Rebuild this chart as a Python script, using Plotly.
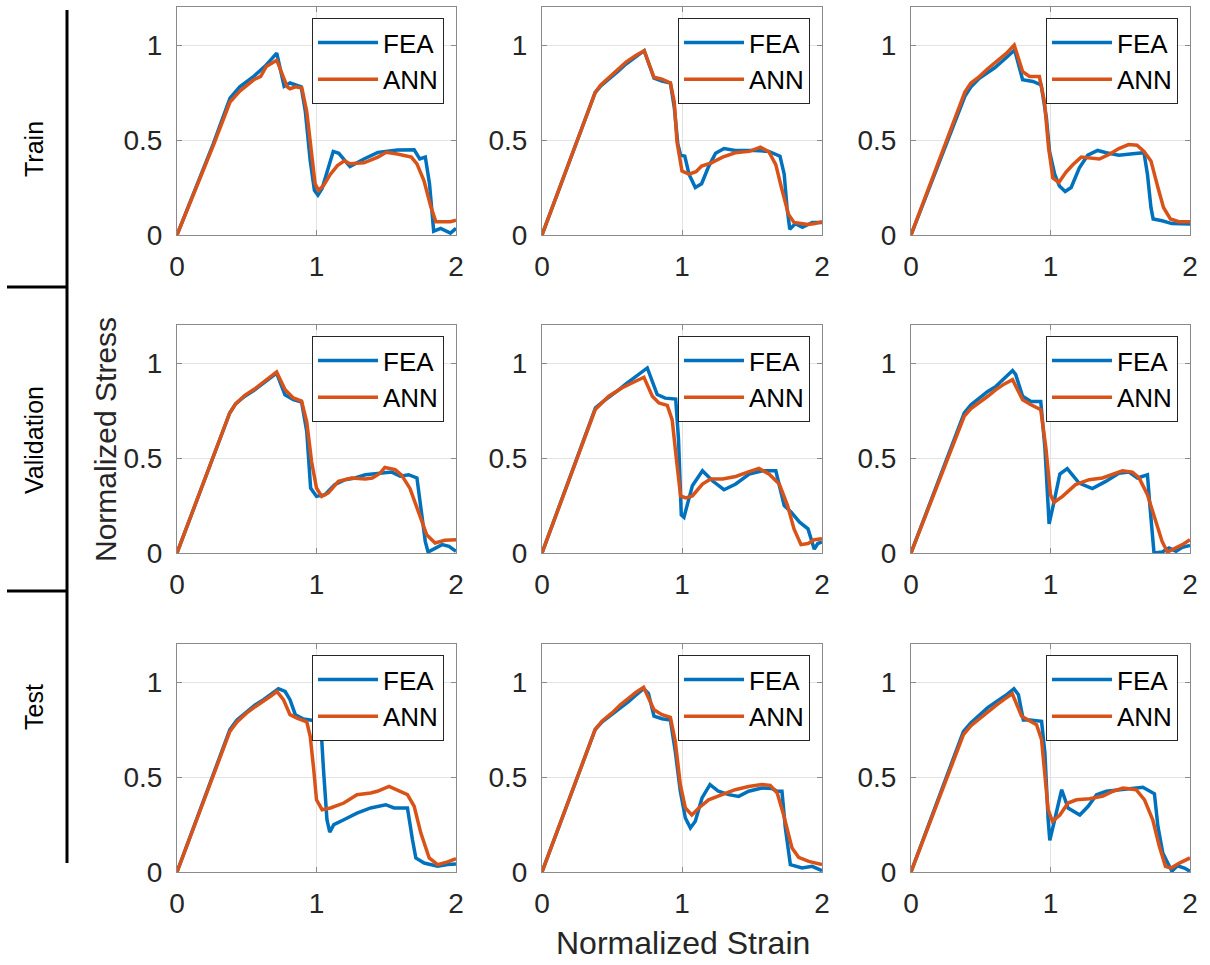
import plotly.graph_objects as go

# ---------------- data ----------------
ROW_LABELS = ["Train", "Validation", "Test"]
SERIES_NAMES = ["FEA", "ANN"]
X_TICKS = [0, 1, 2]
Y_TICKS = [0, 0.5, 1]
Y_TICK_TEXT = ["0", "0.5", "1"]

# Train, panel 1
tr1_fea_x = [0, 0.26, 0.38, 0.45, 0.55, 0.64, 0.715, 0.768, 0.81, 0.89, 0.92, 0.955, 0.985, 1.01, 1.04, 1.12, 1.16, 1.24, 1.34, 1.44, 1.58, 1.70, 1.74, 1.78, 1.81, 1.84, 1.89, 1.93, 1.96, 2.0]
tr1_fea_y = [0, 0.48, 0.72, 0.78, 0.835, 0.895, 0.957, 0.783, 0.80, 0.78, 0.65, 0.39, 0.235, 0.21, 0.245, 0.44, 0.43, 0.36, 0.40, 0.435, 0.447, 0.449, 0.40, 0.41, 0.27, 0.02, 0.035, 0.02, 0.01, 0.035]
tr1_ann_x = [0, 0.26, 0.38, 0.45, 0.55, 0.6, 0.64, 0.68, 0.715, 0.79, 0.81, 0.85, 0.895, 0.93, 0.97, 0.99, 1.015, 1.05, 1.1, 1.15, 1.2, 1.24, 1.34, 1.44, 1.5, 1.58, 1.68, 1.72, 1.77, 1.82, 1.856, 1.92, 1.96, 2.0]
tr1_ann_y = [0, 0.47, 0.70, 0.757, 0.817, 0.835, 0.887, 0.904, 0.92, 0.78, 0.77, 0.78, 0.774, 0.65, 0.41, 0.27, 0.235, 0.26, 0.32, 0.365, 0.39, 0.375, 0.38, 0.41, 0.435, 0.426, 0.41, 0.374, 0.287, 0.148, 0.07, 0.07, 0.07, 0.078]

# Train, panel 2
tr2_fea_x = [0, 0.38, 0.42, 0.48, 0.54, 0.6, 0.67, 0.73, 0.80, 0.857, 0.917, 0.945, 0.97, 0.99, 1.02, 1.05, 1.095, 1.14, 1.19, 1.24, 1.30, 1.38, 1.52, 1.62, 1.70, 1.73, 1.75, 1.77, 1.81, 1.86, 1.93, 2.0]
tr2_fea_y = [0, 0.75, 0.785, 0.82, 0.86, 0.90, 0.935, 0.97, 0.825, 0.81, 0.80, 0.67, 0.48, 0.42, 0.415, 0.32, 0.25, 0.27, 0.36, 0.43, 0.455, 0.445, 0.445, 0.44, 0.415, 0.32, 0.145, 0.03, 0.06, 0.04, 0.066, 0.066]
tr2_ann_x = [0, 0.38, 0.42, 0.48, 0.54, 0.6, 0.67, 0.73, 0.80, 0.857, 0.917, 0.945, 0.964, 0.99, 1.0, 1.05, 1.1, 1.14, 1.21, 1.29, 1.38, 1.48, 1.56, 1.62, 1.67, 1.71, 1.76, 1.80, 1.9, 1.95, 2.0]
tr2_ann_y = [0, 0.75, 0.79, 0.83, 0.87, 0.91, 0.945, 0.97, 0.83, 0.82, 0.80, 0.70, 0.49, 0.37, 0.337, 0.32, 0.333, 0.363, 0.38, 0.41, 0.433, 0.44, 0.462, 0.438, 0.37, 0.25, 0.11, 0.066, 0.055, 0.06, 0.07]

# Train, panel 3
tr3_fea_x = [0, 0.386, 0.43, 0.49, 0.55, 0.6, 0.67, 0.743, 0.80, 0.874, 0.933, 0.97, 0.993, 1.03, 1.064, 1.105, 1.148, 1.207, 1.267, 1.338, 1.4, 1.49, 1.59, 1.67, 1.695, 1.72, 1.736, 1.80, 1.87, 2.0]
tr3_fea_y = [0, 0.73, 0.78, 0.825, 0.855, 0.88, 0.925, 0.974, 0.817, 0.808, 0.79, 0.62, 0.44, 0.32, 0.258, 0.229, 0.25, 0.354, 0.42, 0.445, 0.433, 0.42, 0.428, 0.433, 0.32, 0.145, 0.084, 0.075, 0.06, 0.058]
tr3_ann_x = [0, 0.386, 0.43, 0.49, 0.55, 0.61, 0.683, 0.74, 0.80, 0.85, 0.92, 0.957, 0.986, 1.017, 1.06, 1.11, 1.16, 1.22, 1.28, 1.35, 1.42, 1.49, 1.56, 1.62, 1.67, 1.72, 1.77, 1.81, 1.86, 1.92, 2.0]
tr3_ann_y = [0, 0.752, 0.80, 0.834, 0.875, 0.913, 0.956, 1.0, 0.86, 0.834, 0.834, 0.70, 0.46, 0.30, 0.276, 0.33, 0.37, 0.41, 0.405, 0.40, 0.424, 0.455, 0.476, 0.473, 0.44, 0.39, 0.25, 0.145, 0.084, 0.07, 0.07]

# Validation, panel 1
va1_fea_x = [0, 0.378, 0.42, 0.486, 0.55, 0.606, 0.66, 0.714, 0.774, 0.834, 0.893, 0.93, 0.958, 1.0, 1.06, 1.13, 1.205, 1.277, 1.35, 1.444, 1.54, 1.6, 1.66, 1.72, 1.756, 1.78, 1.80, 1.85, 1.90, 1.95, 2.0]
va1_fea_y = [0, 0.737, 0.785, 0.825, 0.855, 0.886, 0.915, 0.947, 0.833, 0.807, 0.795, 0.64, 0.342, 0.298, 0.307, 0.36, 0.386, 0.395, 0.412, 0.421, 0.426, 0.404, 0.412, 0.395, 0.20, 0.06, 0.005, 0.026, 0.044, 0.035, 0.009]
va1_ann_x = [0, 0.378, 0.42, 0.486, 0.55, 0.606, 0.66, 0.714, 0.774, 0.834, 0.893, 0.93, 0.965, 1.0, 1.037, 1.085, 1.157, 1.25, 1.35, 1.40, 1.456, 1.49, 1.564, 1.61, 1.67, 1.73, 1.79, 1.85, 1.92, 2.0]
va1_ann_y = [0, 0.737, 0.785, 0.83, 0.86, 0.89, 0.92, 0.953, 0.86, 0.816, 0.80, 0.69, 0.48, 0.342, 0.298, 0.316, 0.377, 0.395, 0.39, 0.395, 0.42, 0.45, 0.439, 0.41, 0.34, 0.22, 0.096, 0.053, 0.067, 0.07]

# Validation, panel 2
va2_fea_x = [0, 0.382, 0.44, 0.5, 0.55, 0.6, 0.68, 0.752, 0.823, 0.88, 0.955, 0.975, 0.995, 1.014, 1.04, 1.074, 1.146, 1.217, 1.30, 1.384, 1.48, 1.575, 1.67, 1.73, 1.78, 1.84, 1.90, 1.945, 1.97, 2.0]
va2_fea_y = [0, 0.764, 0.80, 0.83, 0.86, 0.89, 0.935, 0.974, 0.834, 0.815, 0.81, 0.60, 0.20, 0.188, 0.26, 0.354, 0.433, 0.38, 0.333, 0.363, 0.415, 0.433, 0.433, 0.25, 0.215, 0.162, 0.127, 0.02, 0.05, 0.058]
va2_ann_x = [0, 0.38, 0.477, 0.573, 0.668, 0.728, 0.788, 0.835, 0.895, 0.93, 0.96, 0.99, 1.026, 1.074, 1.146, 1.205, 1.29, 1.384, 1.48, 1.55, 1.623, 1.695, 1.754, 1.80, 1.85, 1.90, 1.945, 2.0]
va2_ann_y = [0, 0.755, 0.825, 0.87, 0.904, 0.925, 0.825, 0.79, 0.777, 0.70, 0.494, 0.30, 0.29, 0.30, 0.363, 0.39, 0.39, 0.403, 0.428, 0.445, 0.415, 0.363, 0.25, 0.127, 0.044, 0.05, 0.07, 0.075]

# Validation, panel 3
va3_fea_x = [0, 0.382, 0.43, 0.49, 0.55, 0.609, 0.67, 0.728, 0.75, 0.80, 0.86, 0.93, 0.96, 0.99, 1.026, 1.067, 1.12, 1.205, 1.30, 1.396, 1.49, 1.563, 1.623, 1.695, 1.71, 1.742, 1.80, 1.85, 1.90, 1.945, 2.0]
va3_fea_y = [0, 0.737, 0.78, 0.816, 0.85, 0.877, 0.92, 0.96, 0.94, 0.825, 0.798, 0.798, 0.553, 0.153, 0.272, 0.416, 0.444, 0.368, 0.339, 0.377, 0.42, 0.426, 0.395, 0.412, 0.27, 0.0, 0.005, 0.026, 0.009, 0.03, 0.04]
va3_ann_x = [0, 0.382, 0.43, 0.49, 0.55, 0.609, 0.67, 0.728, 0.80, 0.86, 0.93, 0.967, 1.0, 1.026, 1.086, 1.18, 1.277, 1.372, 1.444, 1.516, 1.587, 1.635, 1.695, 1.754, 1.80, 1.838, 1.897, 1.945, 2.0]
va3_ann_y = [0, 0.72, 0.76, 0.79, 0.825, 0.86, 0.89, 0.912, 0.807, 0.78, 0.754, 0.553, 0.307, 0.267, 0.298, 0.36, 0.386, 0.395, 0.412, 0.433, 0.426, 0.395, 0.307, 0.167, 0.061, 0.005, 0.026, 0.044, 0.07]

# Test, panel 1
te1_fea_x = [0, 0.379, 0.43, 0.50, 0.56, 0.62, 0.68, 0.727, 0.775, 0.81, 0.848, 0.907, 0.955, 1.03, 1.05, 1.075, 1.095, 1.124, 1.196, 1.29, 1.388, 1.496, 1.556, 1.652, 1.688, 1.712, 1.772, 1.868, 1.94, 2.0]
te1_fea_y = [0, 0.749, 0.80, 0.846, 0.88, 0.907, 0.94, 0.965, 0.95, 0.907, 0.828, 0.805, 0.80, 0.79, 0.54, 0.275, 0.21, 0.249, 0.275, 0.31, 0.337, 0.354, 0.337, 0.337, 0.17, 0.074, 0.047, 0.03, 0.039, 0.042]
te1_ann_x = [0, 0.379, 0.43, 0.50, 0.56, 0.62, 0.67, 0.716, 0.763, 0.81, 0.86, 0.93, 0.955, 0.98, 1.0, 1.04, 1.10, 1.196, 1.29, 1.388, 1.436, 1.52, 1.58, 1.652, 1.70, 1.748, 1.808, 1.868, 1.94, 2.0]
te1_ann_y = [0, 0.74, 0.79, 0.837, 0.87, 0.898, 0.925, 0.95, 0.907, 0.828, 0.81, 0.79, 0.714, 0.54, 0.38, 0.328, 0.337, 0.363, 0.407, 0.416, 0.425, 0.45, 0.43, 0.407, 0.346, 0.205, 0.074, 0.039, 0.053, 0.07]

# Test, panel 2
te2_fea_x = [0, 0.38, 0.43, 0.5, 0.56, 0.62, 0.67, 0.726, 0.76, 0.80, 0.857, 0.917, 0.952, 0.988, 1.024, 1.06, 1.095, 1.143, 1.20, 1.26, 1.333, 1.405, 1.476, 1.57, 1.643, 1.68, 1.714, 1.738, 1.774, 1.81, 1.857, 1.93, 2.0]
te2_fea_y = [0, 0.75, 0.79, 0.828, 0.865, 0.898, 0.93, 0.965, 0.94, 0.82, 0.807, 0.80, 0.635, 0.425, 0.284, 0.232, 0.267, 0.39, 0.46, 0.425, 0.407, 0.398, 0.425, 0.442, 0.439, 0.425, 0.425, 0.232, 0.039, 0.03, 0.021, 0.03, 0.007]
te2_ann_x = [0, 0.38, 0.43, 0.5, 0.56, 0.62, 0.67, 0.726, 0.80, 0.857, 0.917, 0.952, 0.988, 1.024, 1.07, 1.12, 1.19, 1.286, 1.38, 1.476, 1.57, 1.63, 1.68, 1.726, 1.786, 1.833, 1.905, 2.0]
te2_ann_y = [0, 0.75, 0.795, 0.837, 0.88, 0.916, 0.945, 0.972, 0.854, 0.828, 0.814, 0.688, 0.46, 0.337, 0.30, 0.337, 0.38, 0.407, 0.433, 0.45, 0.46, 0.456, 0.416, 0.30, 0.126, 0.077, 0.056, 0.039]

# Test, panel 3
te3_fea_x = [0, 0.376, 0.43, 0.495, 0.55, 0.614, 0.68, 0.738, 0.77, 0.805, 0.852, 0.936, 0.96, 0.983, 0.995, 1.03, 1.08, 1.126, 1.21, 1.27, 1.33, 1.40, 1.495, 1.59, 1.662, 1.745, 1.77, 1.805, 1.87, 1.91, 1.96, 2.0]
te3_fea_y = [0, 0.74, 0.785, 0.828, 0.865, 0.898, 0.93, 0.965, 0.933, 0.80, 0.80, 0.793, 0.626, 0.275, 0.167, 0.275, 0.433, 0.337, 0.30, 0.346, 0.407, 0.425, 0.433, 0.442, 0.446, 0.412, 0.24, 0.10, 0.004, 0.033, 0.021, 0.004]
te3_ann_x = [0, 0.376, 0.43, 0.495, 0.55, 0.614, 0.67, 0.726, 0.793, 0.852, 0.90, 0.936, 0.96, 0.983, 1.014, 1.067, 1.126, 1.186, 1.28, 1.376, 1.448, 1.52, 1.614, 1.674, 1.733, 1.78, 1.824, 1.864, 1.924, 2.0]
te3_ann_y = [0, 0.723, 0.77, 0.81, 0.845, 0.88, 0.91, 0.938, 0.82, 0.793, 0.775, 0.696, 0.486, 0.328, 0.267, 0.30, 0.363, 0.38, 0.386, 0.40, 0.425, 0.442, 0.433, 0.38, 0.275, 0.135, 0.03, 0.021, 0.047, 0.074]

# ---------------- layout helpers ----------------
W, H = 1210, 965
FEA_COLOR = "#0072BD"
ANN_COLOR = "#D95319"
FONT = "Liberation Sans, Arial, sans-serif"
COLS = [(177, 456), (542, 822), (911, 1190)]   # pixel x-extent of each column
ROWS = [(7, 235), (325, 553), (644, 872)]      # pixel y-extent (top, bottom) of each row

panels = [
    [(tr1_fea_x, tr1_fea_y, tr1_ann_x, tr1_ann_y),
     (tr2_fea_x, tr2_fea_y, tr2_ann_x, tr2_ann_y),
     (tr3_fea_x, tr3_fea_y, tr3_ann_x, tr3_ann_y)],
    [(va1_fea_x, va1_fea_y, va1_ann_x, va1_ann_y),
     (va2_fea_x, va2_fea_y, va2_ann_x, va2_ann_y),
     (va3_fea_x, va3_fea_y, va3_ann_x, va3_ann_y)],
    [(te1_fea_x, te1_fea_y, te1_ann_x, te1_ann_y),
     (te2_fea_x, te2_fea_y, te2_ann_x, te2_ann_y),
     (te3_fea_x, te3_fea_y, te3_ann_x, te3_ann_y)],
]


def px_x(x):
    return x / W


def px_y(y):
    return 1 - y / H


fig = go.Figure()
layout = dict(
    width=W, height=H, autosize=False,
    template="none",
    margin=dict(l=0, r=0, t=0, b=0, pad=0, autoexpand=False),
    paper_bgcolor="white", plot_bgcolor="white",
    font=dict(family=FONT, color="#262626"),
    shapes=[], annotations=[],
)

axis_common = dict(
    showgrid=True, gridcolor="#e3e3e3", gridwidth=1,
    zeroline=False, showline=True, linecolor="#8a8a8a", linewidth=1,
    mirror="ticks", ticks="inside", ticklen=5, tickcolor="#8a8a8a",
    tickfont=dict(family=FONT, size=28, color="#262626"),
    fixedrange=True, automargin=False,
)

k = 0
for r in range(3):
    for c in range(3):
        k += 1
        sfx = "" if k == 1 else str(k)
        fx, fy, ax_, ay = panels[r][c]
        lg = "legend" + sfx
        fig.add_trace(go.Scatter(x=fx, y=fy, mode="lines", name=SERIES_NAMES[0],
                                 line=dict(color=FEA_COLOR, width=3.5),
                                 xaxis="x" + sfx, yaxis="y" + sfx, legend=lg))
        fig.add_trace(go.Scatter(x=ax_, y=ay, mode="lines", name=SERIES_NAMES[1],
                                 line=dict(color=ANN_COLOR, width=3.5),
                                 xaxis="x" + sfx, yaxis="y" + sfx, legend=lg))
        x0, x1 = COLS[c]
        t, b = ROWS[r]
        layout["xaxis" + sfx] = dict(axis_common, domain=[px_x(x0), px_x(x1)],
                                     range=[0, 2], tickvals=X_TICKS,
                                     anchor="y" + sfx, ticklabelstandoff=6)
        layout["yaxis" + sfx] = dict(axis_common, domain=[px_y(b), px_y(t)],
                                     range=[0, 1.2], tickvals=Y_TICKS, ticktext=Y_TICK_TEXT,
                                     anchor="x" + sfx, ticklabelstandoff=8)
        layout[lg] = dict(
            x=px_x(x1 - 12), y=px_y(t + 11), xanchor="right", yanchor="top",
            xref="paper", yref="paper",
            bgcolor="white", bordercolor="#262626", borderwidth=1,
            font=dict(family=FONT, size=26, color="black"),
            itemwidth=60, tracegroupgap=0, traceorder="normal",
        )

# row labels and bracket lines
line_style = dict(color="black", width=3)
layout["shapes"].append(dict(type="line", xref="paper", yref="paper",
                             x0=px_x(67), x1=px_x(67), y0=px_y(10), y1=px_y(863), line=line_style))
for yy in (287, 591):
    layout["shapes"].append(dict(type="line", xref="paper", yref="paper",
                                 x0=px_x(7), x1=px_x(67), y0=px_y(yy), y1=px_y(yy), line=line_style))

row_centers = [149, 440, 707]
for lab, yc in zip(ROW_LABELS, row_centers):
    layout["annotations"].append(dict(text=lab, x=px_x(34), y=px_y(yc), xref="paper", yref="paper",
                                      showarrow=False, textangle=-90,
                                      font=dict(family=FONT, size=25, color="black"),
                                      xanchor="center", yanchor="middle"))

layout["annotations"].append(dict(text="Normalized Stress", x=px_x(105), y=px_y(440),
                                  xref="paper", yref="paper", showarrow=False, textangle=-90,
                                  font=dict(family=FONT, size=30, color="#262626"),
                                  xanchor="center", yanchor="middle"))
layout["annotations"].append(dict(text="Normalized Strain", x=px_x(683), y=px_y(943),
                                  xref="paper", yref="paper", showarrow=False,
                                  font=dict(family=FONT, size=32, color="#262626"),
                                  xanchor="center", yanchor="middle"))

fig.update_layout(**layout)
fig.write_html("out.html")
